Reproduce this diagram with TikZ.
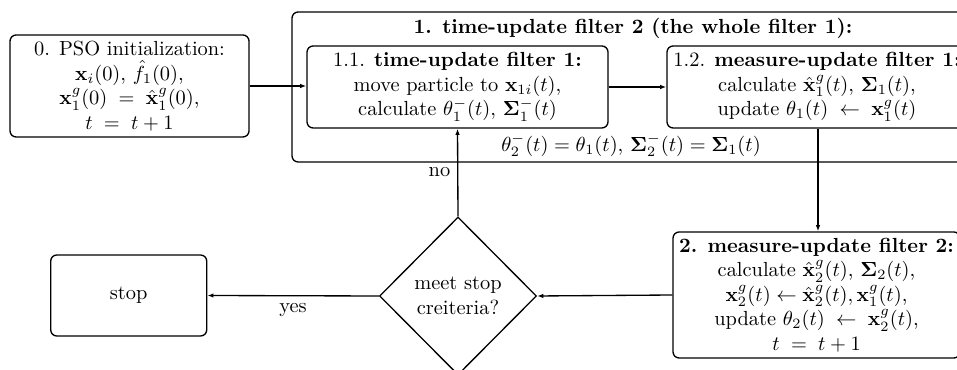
\documentclass[tikz,border=0pt]{standalone}
\usepackage{amsmath,amssymb,bm}
\usetikzlibrary{shapes.geometric,arrows.meta}
\begin{document}
\begin{tikzpicture}[x=0.49pt,y=-0.49pt,
  sz/.style 2 args={minimum width=#1*0.49pt,minimum height=#2*0.49pt},
  box/.style={draw,line width=0.65pt,rounded corners=3pt,align=center,inner sep=1pt},
  decision/.style={draw,line width=0.65pt,diamond,align=center,inner sep=0pt,sz={157}{158}},
  conn/.style={line width=0.65pt,-{Latex[length=3pt,width=2.2pt]}}]
\clip (0,0) rectangle (957,370);
\node[box,sz={239}{102}] (init) at (129.5,86)
  {0. PSO initialization:\\
   $\mathbf{x}_i(0)$, $\hat{f}_1(0)$,\\
   $\mathbf{x}_1^g(0)\;=\;\hat{\mathbf{x}}_1^g(0)$,\\
   $t\;=\;t+1$};
\node[box,sz={682}{150}] (outer) at (633,87) {};
\node[anchor=center] (title) at (633,28) {\textbf{1. time-update filter 2 (the whole filter 1):}};
\node[box,sz={301}{82}] (tu1) at (457.5,87)
  {1.1. \textbf{time-update filter 1:}\\
   move particle to $\mathbf{x}_{1i}(t)$,\\
   calculate $\theta_1^-(t)$, $\bm{\Sigma}_1^-(t)$};
\node[box,sz={300}{82}] (mu1) at (817,87)
  {1.2. \textbf{measure-update filter 1:}\\
   calculate $\hat{\mathbf{x}}_1^g(t)$, $\bm{\Sigma}_1(t)$,\\
   update $\theta_1(t)\;\leftarrow\;\mathbf{x}_1^g(t)$};
\node (copy) at (631,145) {$\theta_2^-(t)=\theta_1(t)$, $\bm{\Sigma}_2^-(t)=\bm{\Sigma}_1(t)$};
\node[box,sz={287}{126}] (mu2) at (816.5,295)
  {\textbf{2. measure-update filter 2:}\\
   calculate $\hat{\mathbf{x}}_2^g(t)$, $\bm{\Sigma}_2(t)$,\\
   $\mathbf{x}_2^g(t)\leftarrow\hat{\mathbf{x}}_2^g(t),\mathbf{x}_1^g(t)$,\\
   update $\theta_2(t)\;\leftarrow\;\mathbf{x}_2^g(t)$,\\
   $t\;=\;t+1$};
\node[decision] (meet) at (458,296) {meet stop\\creiteria?};
\node[box,sz={156}{81}] (stop) at (128.7,295.5) {stop};
\draw[conn] (init.east) -- (init.east -| tu1.west);
\draw[conn] (tu1.east) -- (mu1.west);
\draw[conn] (mu1.south -| 818,0) -- (mu2.north -| 818,0);
\draw[conn] (mu2.west) -- (meet.east);
\draw[conn] (meet.west) -- node[below] {yes} (stop.east);
\draw[conn] (meet.north) -- node[left] {no} (tu1.south);
\end{tikzpicture}
\end{document}
